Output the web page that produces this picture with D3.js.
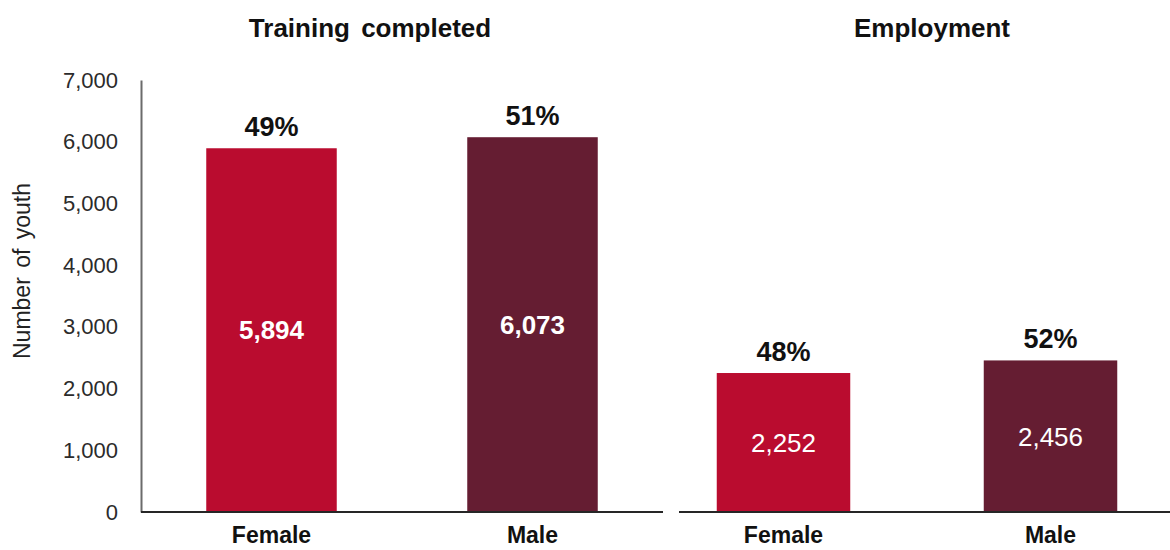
<!DOCTYPE html>
<html>
<head>
<meta charset="utf-8">
<script src="https://cdn.jsdelivr.net/npm/d3@7"></script>
<style>
  html, body { margin: 0; padding: 0; background: #fff; }
  svg { display: block; font-family: "Liberation Sans", Arial, sans-serif; }
</style>
</head>
<body>
<svg id="chart" width="1170" height="550"></svg>
<script>
// Youth outcomes by sex: training completed and employment
const categories = ["Female", "Male"];
const trainingValues = [5894, 6073];
const trainingShares = ["49%", "51%"];
const employmentValues = [2252, 2456];
const employmentShares = ["48%", "52%"];
const yTicks = [0, 1000, 2000, 3000, 4000, 5000, 6000, 7000];
const panelTitles = ["Training completed", "Employment"];
const yAxisTitle = "Number of youth";

const colors = { Female: "#BA0C2F", Male: "#651D32" };

const svg = d3.select("#chart");

const y = d3.scaleLinear().domain([0, 7000]).range([512, 80]);

// Shared value axis on the left
const yAxis = svg.append("g")
  .attr("transform", "translate(141,0)")
  .call(d3.axisLeft(y).tickValues(yTicks).tickSize(0).tickPadding(23).tickFormat(d3.format(",")));
yAxis.select(".domain").attr("stroke", "#6b6b6b").attr("stroke-width", 2);
yAxis.selectAll("text")
  .attr("fill", "#2b2b2b")
  .style("font-size", "22px");

svg.append("text")
  .attr("transform", "translate(30,271) rotate(-90)")
  .attr("text-anchor", "middle")
  .attr("fill", "#222")
  .style("font-size", "23px")
  .style("word-spacing", "3px")
  .text(yAxisTitle);

function drawPanel(opts) {
  const x = d3.scaleBand()
    .domain(categories)
    .range(opts.range)
    .paddingInner(0.5)
    .paddingOuter(0.25);

  const g = svg.append("g");
  const data = categories.map((c, i) => ({ cat: c, value: opts.values[i], share: opts.shares[i] }));

  g.selectAll("rect.bar")
    .data(data)
    .join("rect")
    .attr("class", "bar")
    .attr("x", d => x(d.cat))
    .attr("width", x.bandwidth())
    .attr("y", d => y(d.value))
    .attr("height", d => y(0) - y(d.value))
    .attr("fill", d => colors[d.cat]);

  // baseline
  g.append("line")
    .attr("x1", opts.baseline[0]).attr("x2", opts.baseline[1])
    .attr("y1", y(0)).attr("y2", y(0))
    .attr("stroke", "#262626").attr("stroke-width", 2);

  // value labels inside bars
  g.selectAll("text.value")
    .data(data)
    .join("text")
    .attr("class", "value")
    .attr("x", d => x(d.cat) + x.bandwidth() / 2)
    .attr("y", d => (y(d.value) + y(0)) / 2)
    .attr("dy", "0.36em")
    .attr("text-anchor", "middle")
    .attr("fill", "#fff")
    .style("font-size", "26px")
    .style("font-weight", opts.valueWeight)
    .text(d => d3.format(",")(d.value));

  // share labels above bars
  g.selectAll("text.share")
    .data(data)
    .join("text")
    .attr("class", "share")
    .attr("x", d => x(d.cat) + x.bandwidth() / 2)
    .attr("y", d => y(d.value) - 12)
    .attr("text-anchor", "middle")
    .attr("fill", "#111")
    .style("font-size", "27px")
    .style("font-weight", "bold")
    .text(d => d.share);

  // category labels
  g.selectAll("text.cat")
    .data(data)
    .join("text")
    .attr("class", "cat")
    .attr("x", d => x(d.cat) + x.bandwidth() / 2)
    .attr("y", 543)
    .attr("text-anchor", "middle")
    .attr("fill", "#111")
    .style("font-size", "23px")
    .style("font-weight", "bold")
    .text(d => d.cat);

  svg.append("text")
    .attr("x", opts.titleX)
    .attr("y", 37)
    .attr("text-anchor", "middle")
    .attr("fill", "#111")
    .style("font-size", "26px")
    .style("font-weight", "bold")
    .style("word-spacing", "4px")
    .text(opts.title);
}

drawPanel({
  range: [141, 663], baseline: [141, 663],
  values: trainingValues, shares: trainingShares,
  title: panelTitles[0], titleX: 370, valueWeight: "bold"
});

drawPanel({
  range: [650, 1184], baseline: [679, 1170],
  values: employmentValues, shares: employmentShares,
  title: panelTitles[1], titleX: 932, valueWeight: "normal"
});
</script>
</body>
</html>
